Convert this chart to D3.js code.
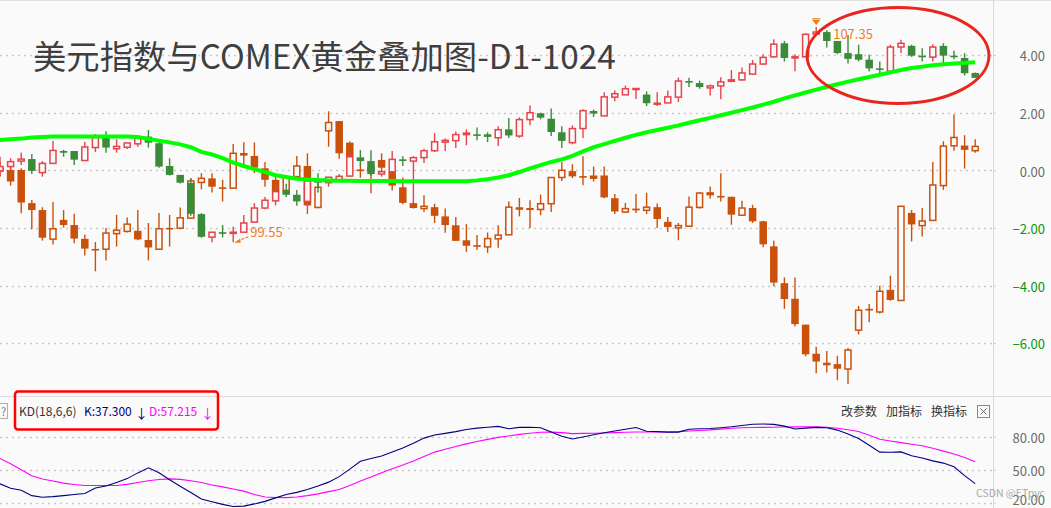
<!DOCTYPE html>
<html><head><meta charset="utf-8">
<script src="https://cdn.jsdelivr.net/npm/d3@7"></script>
<style>
html,body{margin:0;padding:0;background:#fafafa;}
svg{display:block;}
</style></head><body>
<svg id="c" width="1051" height="508"></svg>
<script>
// ---------- DATA (values in % on the overlay axis) ----------
const title = "美元指数与COMEX黄金叠加图-D1-1024";
const priceTicks = [-6, -4, -2, 0, 2, 4];
const kdTicks = [20, 50, 80];
const kdLabel = "KD(18,6,6)";
const kLabel = "K:37.300";
const dLabel = "D:57.215";
const menuLabels = ["改参数", "加指标", "换指标"];
const highLabel = "107.35", highIndex = 77;
const lowLabel = "99.55", lowIndex = 22;

// US dollar index candles
const dOpen = [-0.02,0.13,0.32,0.39,-0.08,0.24,0.67,0.67,0.34,0.79, 1.14,0.75,0.80,0.92,1.17,0.94,0.15,-0.16,-0.44,-1.52, -2.32,-2.15,-2.19,-2.15,-1.80,-1.31,-1.06,-0.70,-0.85,-1.08, -0.33,-0.43,-0.36,-0.20,0.45,0.32,-0.13,-0.05,0.38,0.32, 0.44,0.68,0.98,1.03,1.24,1.25,1.25,1.13,1.42,1.19, 1.76,1.98,1.79,1.32,0.96,1.45,2.06,1.89,2.54,2.62, 2.83,2.63,2.31,2.34,2.54,3.10,3.03,2.86,2.93,3.09, 3.14,3.34,3.69,3.94,4.41,3.90,3.94,4.73,4.80,4.49, 4.07,4.03,3.84,3.54,3.44,4.28,4.32,3.98,3.93,4.32, 3.98,3.90,3.38];
const dHigh = [0.47,0.42,0.62,0.57,0.32,1.02,0.71,0.67,0.99,1.26, 1.36,1.08,0.95,1.23,1.40,1.08,0.42,-0.16,-0.28,-1.49, -2.15,-1.90,-1.96,-1.55,-1.14,-0.93,-0.47,-0.47,-0.68,-0.30, -0.10,-0.24,-0.13,0.65,0.70,0.70,0.01,0.67,0.49,0.49, 0.75,1.29,1.10,1.35,1.42,1.49,1.32,1.53,1.82,1.84, 2.25,2.00,2.15,1.53,1.56,2.12,2.11,2.71,2.77,2.94, 2.86,2.74,2.71,2.77,3.22,3.21,3.11,2.98,3.23,3.48, 3.57,3.83,4.03,4.55,4.49,4.03,4.76,4.98,4.86,4.49, 4.70,4.36,4.01,3.78,4.36,4.53,4.36,4.24,4.38,4.41, 4.15,4.07,3.40];
const dLow = [-0.22,0.01,0.18,-0.13,-0.22,0.22,0.47,0.18,0.33,0.64, 0.61,0.61,0.74,0.82,0.79,0.09,-0.18,-0.46,-1.58,-2.34, -2.50,-2.33,-2.50,-2.15,-1.83,-1.35,-1.22,-0.93,-1.23,-1.52, -0.77,-0.57,-0.39,-0.22,0.16,-0.20,-0.22,-0.05,0.15,-1.13, 0.25,0.64,0.67,0.77,0.87,1.04,0.98,0.84,1.12,1.13, 1.56,1.77,1.19,0.77,0.90,1.12,1.85,1.89,2.40,2.62, 2.48,2.23,2.23,2.34,2.37,2.89,2.83,2.60,2.47,3.06, 3.11,3.32,3.66,3.92,3.78,3.44,3.94,4.70,4.26,4.03, 3.71,3.78,3.44,3.29,3.40,4.07,3.94,3.78,3.78,3.69, 3.86,3.29,3.21];
const dClose = [0.13,0.30,0.39,-0.02,0.24,0.69,0.61,0.37,0.81,1.14, 0.79,0.83,0.95,1.14,0.96,0.13,-0.16,-0.43,-1.51,-2.31, -2.15,-2.17,-2.15,-1.83,-1.31,-1.04,-0.74,-0.85,-1.08,-0.37, -0.43,-0.24,-0.21,0.47,0.32,-0.13,-0.05,0.38,0.36,0.44, 0.68,0.99,1.04,1.24,1.29,1.24,1.16,1.41,1.21,1.76, 2.00,1.83,1.33,1.02,1.45,2.07,1.97,2.55,2.66,2.83, 2.84,2.33,2.33,2.55,3.10,3.08,2.89,2.93,3.07,3.14, 3.38,3.69,3.92,4.38,3.90,3.94,4.72,4.80,4.49,4.07, 3.87,3.84,3.54,3.52,4.28,4.41,3.98,3.97,4.28,3.98, 3.94,3.37,3.21];

// COMEX gold candles
const gOpen = [0.10,0.01,0.01,-1.14,-1.38,-2.39,-1.72,-1.90,-2.38,-2.73, -2.74,-2.20,-2.12,-2.10,-2.42,-2.74,-2.00,-2.01,-1.66,-0.42, -0.28,-0.59,-0.62,0.60,0.50,0.07,-0.33,-0.70,-0.22,0.15, -1.29,1.37,1.71,0.96,0.03,0.00,0.36,-0.06,-0.59,-1.14, -1.33,-1.28,-1.60,-1.91,-2.43,-2.60,-2.66,-2.38,-2.24,-1.32, -1.31,-1.36,-1.16,-0.25,-0.03,-0.20,-0.18,-0.18,-0.97,-1.45, -1.33,-1.39,-1.28,-1.79,-2.00,-1.94,-1.29,-0.76,-0.89,-0.92, -1.56,-1.31,-1.77,-2.64,-3.92,-4.46,-5.36,-6.37,-6.68,-6.73, -6.90,-5.55,-4.81,-4.92,-4.15,-4.52,-1.48,-1.92,-1.74,-0.53, 0.85,0.86,0.68];
const gHigh = [0.30,0.13,0.07,-1.03,-1.28,-1.10,-1.38,-1.51,-2.24,-2.49, -2.00,-1.55,-1.64,-1.38,-1.83,-1.48,-1.55,-1.29,-0.28,-0.10, -0.10,-0.33,0.91,0.97,0.97,0.29,-0.20,-0.22,0.50,0.59, -0.45,2.05,1.71,1.00,0.20,0.25,0.59,0.24,-0.25,-1.10, -0.87,-1.16,-1.33,-1.62,-1.87,-2.25,-2.16,-1.91,-1.08,-0.96, -1.04,-0.84,-0.23,0.29,0.21,0.49,0.13,0.13,-0.82,-1.13, -0.82,-0.78,-1.15,-1.62,-1.83,-0.91,-0.76,-0.56,-0.10,-0.92, -1.06,-1.20,-1.75,-2.45,-3.72,-3.72,-5.36,-6.13,-6.27,-6.44, -6.17,-4.71,-4.64,-4.01,-3.66,-1.25,-1.38,-1.31,0.29,1.01, 1.94,1.22,1.08];
const gLow = [-0.20,-0.53,-1.49,-2.05,-2.44,-2.58,-1.99,-2.53,-2.96,-3.51, -3.13,-2.65,-2.16,-2.43,-3.13,-2.77,-2.65,-2.05,-1.69,-0.66, -0.77,-1.08,-0.65,0.13,-0.10,-0.57,-0.85,-0.80,-0.25,-1.22, -1.32,0.82,0.40,0.41,-0.26,-0.80,-0.10,-0.70,-1.18,-1.33, -1.45,-1.83,-2.17,-2.45,-2.83,-2.77,-2.87,-2.69,-2.24,-1.60, -2.00,-1.56,-1.45,-0.37,-0.27,-0.52,-0.39,-0.97,-1.52,-1.48, -1.48,-1.52,-2.00,-2.14,-2.43,-1.97,-1.33,-0.99,-1.08,-1.89, -1.56,-1.83,-2.67,-4.03,-4.81,-5.42,-6.46,-7.05,-7.02,-7.29, -7.42,-5.70,-5.28,-4.97,-4.53,-4.52,-2.47,-2.30,-1.74,-0.68, 0.68,0.06,0.61];
const gClose = [-0.05,-0.39,-1.12,-1.38,-2.34,-2.03,-1.90,-2.37,-2.72,-2.74, -2.18,-2.08,-1.87,-2.40,-2.68,-2.03,-2.02,-1.65,-0.37,-0.28, -0.57,-0.63,0.59,0.51,0.09,-0.33,-0.74,-0.24,0.15,-1.22, -0.59,1.66,0.59,0.47,-0.03,0.10,0.09,-0.53,-1.13,-1.31, -1.25,-1.58,-1.90,-2.45,-2.62,-2.61,-2.37,-2.25,-1.28,-1.31, -1.38,-1.16,-0.25,0.00,-0.21,-0.22,-0.30,-0.94,-1.43,-1.33, -1.39,-1.28,-1.69,-1.97,-1.92,-1.28,-0.79,-0.87,-0.93,-1.54, -1.31,-1.77,-2.57,-3.90,-4.47,-5.34,-6.39,-6.64,-6.77,-6.89, -6.24,-4.86,-4.87,-4.20,-4.50,-1.25,-1.88,-1.76,-0.51,0.84, 1.14,0.71,0.83];

// moving average of the dollar index (green line)
const dMA = [1.05,1.08,1.10,1.14,1.16,1.17,1.17,1.17,1.17,1.17, 1.17,1.17,1.17,1.16,1.09,1.03,0.97,0.90,0.80,0.64, 0.55,0.42,0.27,0.15,0.04,-0.06,-0.17,-0.23,-0.29,-0.32, -0.34,-0.35,-0.36,-0.36,-0.37,-0.37,-0.37,-0.37,-0.38,-0.38, -0.38,-0.38,-0.38,-0.38,-0.38,-0.35,-0.31,-0.25,-0.17,-0.06, 0.07,0.18,0.29,0.38,0.50,0.66,0.80,0.91,1.02,1.13, 1.23,1.32,1.40,1.48,1.56,1.65,1.74,1.82,1.91,2.00, 2.09,2.18,2.28,2.38,2.50,2.60,2.70,2.80,2.90,2.99, 3.08,3.16,3.24,3.32,3.40,3.48,3.55,3.60,3.65,3.68, 3.71,3.73,3.75];

// KD indicator
const kdK = [37.2,33.1,31.4,26.4,25.0,25.5,26.4,27.4,28.4,33.4, 35.1,38.4,41.9,47.1,51.7,47.2,40.8,35.0,29.3,23.3, 20.9,18.5,16.6,16.9,18.9,21.2,24.4,27.4,29.4,32.0, 35.2,38.7,43.7,50.5,57.6,60.1,62.5,66.1,69.8,74.0, 78.7,81.5,83.0,84.6,86.5,87.8,88.6,89.4,87.2,88.5, 88.6,88.1,84.2,80.4,77.9,79.7,81.7,83.6,85.2,86.8, 88.3,85.0,84.6,84.2,84.2,86.8,87.2,87.4,88.2,89.0, 90.2,91.3,91.6,91.2,89.6,87.0,87.8,88.5,88.1,86.0, 82.4,78.3,72.3,66.0,65.8,66.2,62.7,60.7,58.0,56.0, 52.6,44.6,37.3];
const kdD = [60.3,55.4,50.0,44.5,41.6,39.8,37.8,36.5,35.7,35.7, 35.7,35.7,36.7,38.4,40.0,41.1,41.7,41.2,40.0,38.3, 36.1,34.4,32.4,30.5,27.4,25.2,24.7,24.6,25.2,26.4, 28.0,30.1,32.0,35.7,39.7,43.4,47.3,50.9,54.3,58.0, 62.0,66.0,68.6,71.1,73.5,75.6,77.6,79.4,80.7,82.1, 83.2,84.0,84.2,83.7,82.8,83.0,83.2,83.4,83.7,84.1, 84.3,84.3,84.3,84.3,84.6,85.2,85.6,86.2,86.9,87.7, 88.1,88.3,88.5,88.6,88.8,88.9,89.0,88.9,88.6,87.7, 86.3,84.8,81.4,77.6,76.1,74.6,73.1,71.7,69.5,66.9, 64.3,61.1,57.2];

// ---------- LAYOUT ----------
const W = 1051, H = 508;
const BG = "#fafafa";
const plotR = 993;           // right edge of plot area
const mainBottom = 396;
const FONT = "'Noto Sans CJK SC','Noto Sans',sans-serif";
const C_UP = "#e5444b", C_DN = "#3a8b3a", C_GOLD = "#c9510c";

const svg = d3.select("#c");
svg.append("rect").attr("width", W).attr("height", H).attr("fill", BG);

const n = dOpen.length;
const x = d3.scaleLinear().domain([0, n - 1]).range([0, 975.2]);
const y = d3.scaleLinear().domain([-6, 4]).range([343.1, 55.1]);
const ky = d3.scaleLinear().domain([20, 80]).range([502.7, 436.7]);

const defs = svg.append("defs");
defs.append("clipPath").attr("id", "clipMain").append("rect")
  .attr("x", 0).attr("y", 0).attr("width", plotR).attr("height", mainBottom);
defs.append("clipPath").attr("id", "clipKD").append("rect")
  .attr("x", 0).attr("y", mainBottom + 1).attr("width", plotR).attr("height", H - mainBottom);

// frame lines
svg.append("line").attr("x1", 0).attr("x2", W).attr("y1", 0.5).attr("y2", 0.5).attr("stroke", "#e2e2e2");
svg.append("line").attr("x1", plotR + 0.5).attr("x2", plotR + 0.5).attr("y1", 0).attr("y2", H).attr("stroke", "#d9d9d9");
svg.append("line").attr("x1", 0).attr("x2", W).attr("y1", mainBottom + 0.5).attr("y2", mainBottom + 0.5).attr("stroke", "#dcdcdc");

// grid
const grid = svg.append("g");
grid.selectAll("line.gm").data(priceTicks).join("line")
  .attr("x1", 0).attr("x2", plotR).attr("y1", d => Math.round(y(d)) + 0.5).attr("y2", d => Math.round(y(d)) + 0.5)
  .attr("stroke", "#c9c9c9").attr("stroke-width", 1.5).attr("stroke-dasharray", "2,4");
grid.selectAll("line.gk").data(kdTicks).join("line")
  .attr("x1", 0).attr("x2", plotR).attr("y1", d => Math.round(ky(d)) + 0.5).attr("y2", d => Math.round(ky(d)) + 0.5)
  .attr("stroke", "#c9c9c9").attr("stroke-width", 1.5).attr("stroke-dasharray", "2,4");

// axes
const axM = svg.append("g").attr("transform", `translate(${plotR},0)`)
  .call(d3.axisRight(y).tickValues(priceTicks).tickFormat(d3.format(".2f")).tickSize(3));
axM.select(".domain").remove();
axM.selectAll(".tick line").attr("stroke", "#cfcfcf");
axM.selectAll(".tick text").attr("x", 52).attr("text-anchor", "end").attr("dy", "0.45em")
  .attr("font-family", FONT).attr("font-size", 13)
  .attr("fill", d => d < 0 ? "#0a960a" : "#6b6b6b");

const axK = svg.append("g").attr("transform", `translate(${plotR},0)`)
  .call(d3.axisRight(ky).tickValues(kdTicks).tickFormat(d3.format(".2f")).tickSize(3));
axK.select(".domain").remove();
axK.selectAll(".tick line").attr("stroke", "#cfcfcf");
axK.selectAll(".tick text").attr("x", 52).attr("text-anchor", "end")
  .attr("dy", d => d === 20 ? "0.1em" : "0.45em")
  .attr("font-family", FONT).attr("font-size", 13).attr("fill", "#6b6b6b");

// candles
function drawCandles(layer, O, Hh, L, C, upColor, downColor) {
  for (let i = 0; i < O.length; i++) {
    const cx = x(i);
    const up = C[i] >= O[i];
    if (up) {
      const yt = y(C[i]), yb = y(O[i]);
      layer.append("line").attr("x1", cx).attr("x2", cx).attr("y1", y(Hh[i])).attr("y2", yt)
        .attr("stroke", upColor).attr("stroke-width", 1.4);
      layer.append("line").attr("x1", cx).attr("x2", cx).attr("y1", yb).attr("y2", y(L[i]))
        .attr("stroke", upColor).attr("stroke-width", 1.4);
      layer.append("rect").attr("x", cx - 3).attr("y", yt).attr("width", 6)
        .attr("height", Math.max(yb - yt, 1)).attr("fill", BG)
        .attr("stroke", upColor).attr("stroke-width", 1.5);
    } else {
      const yt = y(O[i]), yb = y(C[i]);
      layer.append("line").attr("x1", cx).attr("x2", cx).attr("y1", y(Hh[i])).attr("y2", y(L[i]))
        .attr("stroke", downColor).attr("stroke-width", 1.4);
      layer.append("rect").attr("x", cx - 3.75).attr("y", yt).attr("width", 7.5)
        .attr("height", Math.max(yb - yt, 1.6)).attr("fill", downColor);
    }
  }
}
const main = svg.append("g").attr("clip-path", "url(#clipMain)");
drawCandles(main.append("g"), gOpen, gHigh, gLow, gClose, C_GOLD, C_GOLD);
drawCandles(main.append("g"), dOpen, dHigh, dLow, dClose, C_UP, C_DN);

// moving average
main.append("path").datum(dMA)
  .attr("d", d3.line().x((d, i) => x(i)).y(d => y(d)))
  .attr("fill", "none").attr("stroke", "#00ff00").attr("stroke-width", 4);

// high / low annotations
const hx = x(highIndex), hy = y(dHigh[highIndex]);
main.append("path").attr("d", `M${hx - 4},${hy - 7} L${hx + 4},${hy - 7} L${hx},${hy - 2} Z`).attr("fill", "#f07d1e");
main.append("line").attr("x1", hx - 4).attr("x2", hx + 4).attr("y1", hy - 8).attr("y2", hy - 8).attr("stroke", "#f07d1e").attr("stroke-width", 1.2);
svg.append("text").attr("x", hx + 17).attr("y", hy + 12).text(highLabel)
  .attr("font-family", FONT).attr("font-size", 13).attr("fill", "#f07d1e");

const lx = x(lowIndex), ly = y(dLow[lowIndex]);
main.append("line").attr("x1", lx + 4).attr("y1", ly - 1).attr("x2", lx + 16).attr("y2", ly - 6)
  .attr("stroke", "#f07d1e").attr("stroke-width", 1.2).attr("stroke-dasharray", "3,1.5");
main.append("path").attr("d", `M${lx + 1},${ly + 0.5} L${lx + 7},${ly - 3.5} L${lx + 7.5},${ly + 0.5} Z`).attr("fill", "#f07d1e");
svg.append("text").attr("x", lx + 17).attr("y", ly - 5).text(lowLabel)
  .attr("font-family", FONT).attr("font-size", 13).attr("fill", "#f07d1e");

// title
const t = svg.append("text").attr("x", 33).attr("y", 69).text(title)
  .attr("font-family", FONT).attr("font-size", 32).attr("fill", "#3f3f3f");
const tw = t.node().getComputedTextLength();
if (tw > 0) t.attr("font-size", 32 * 583 / tw);

// red ellipse highlight
svg.append("ellipse").attr("cx", 898).attr("cy", 55.5).attr("rx", 91).attr("ry", 48)
  .attr("fill", "none").attr("stroke", "#e8261f").attr("stroke-width", 3);

// KD panel lines
const kd = svg.append("g").attr("clip-path", "url(#clipKD)");
kd.append("path").datum(kdD).attr("d", d3.line().x((d, i) => x(i)).y(d => ky(d)))
  .attr("fill", "none").attr("stroke", "#ff00ff").attr("stroke-width", 1.1);
kd.append("path").datum(kdK).attr("d", d3.line().x((d, i) => x(i)).y(d => ky(d)))
  .attr("fill", "none").attr("stroke", "#000080").attr("stroke-width", 1.1);

// KD header
const hdrY = 416;
svg.append("rect").attr("x", -6.5).attr("y", 403.5).attr("width", 14).attr("height", 15)
  .attr("fill", "none").attr("stroke", "#b0b0b0");
svg.append("text").attr("x", 1).attr("y", hdrY - 0.5).text("?").attr("font-family", FONT).attr("font-size", 11).attr("fill", "#777");
svg.append("text").attr("x", 19).attr("y", hdrY).text(kdLabel).attr("font-family", FONT).attr("font-size", 12).attr("fill", "#333");
svg.append("text").attr("x", 84).attr("y", hdrY).text(kLabel).attr("font-family", FONT).attr("font-size", 12).attr("fill", "#000080");
svg.append("text").attr("x", 135).attr("y", hdrY + 2).text("↓").attr("font-family", FONT).attr("font-size", 13).attr("fill", "#000080");
svg.append("text").attr("x", 149).attr("y", hdrY).text(dLabel).attr("font-family", FONT).attr("font-size", 12).attr("fill", "#ff00ff");
svg.append("text").attr("x", 201).attr("y", hdrY + 2).text("↓").attr("font-family", FONT).attr("font-size", 13).attr("fill", "#ff00ff");
svg.append("rect").attr("x", 15).attr("y", 391.5).attr("width", 203).attr("height", 38).attr("rx", 3)
  .attr("fill", "none").attr("stroke", "#f00").attr("stroke-width", 2.5);

svg.selectAll("text.menu").data(menuLabels).join("text")
  .attr("x", (d, i) => 841 + i * 45).attr("y", hdrY).text(d => d)
  .attr("font-family", FONT).attr("font-size", 12).attr("fill", "#333");
svg.append("rect").attr("x", 977.5).attr("y", 405.5).attr("width", 12).attr("height", 12)
  .attr("fill", "none").attr("stroke", "#8a8a8a");
svg.append("path").attr("d", "M980.5,408.5 L986.5,414.5 M986.5,408.5 L980.5,414.5").attr("stroke", "#666").attr("stroke-width", 1);

// watermark
svg.append("text").attr("x", 976).attr("y", 497).text("CSDN @ETpyc")
  .attr("font-family", FONT).attr("font-size", 10.5).attr("fill", "#9a9a9a").attr("opacity", 0.85);
</script>
</body></html>
